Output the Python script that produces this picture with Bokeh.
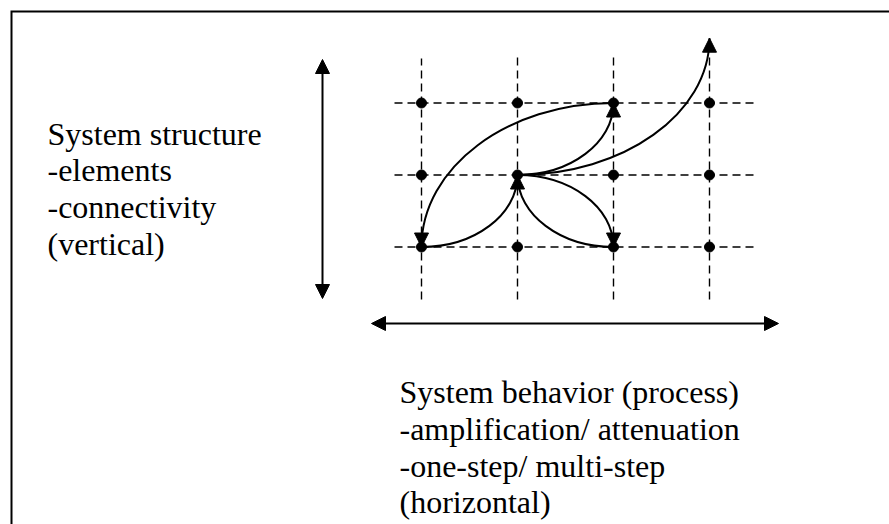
import numpy as np
from bokeh.plotting import figure
from bokeh.models import Range1d, Arrow, NormalHead
from bokeh.core.properties import value
from bokeh.embed import file_html
from bokeh.resources import INLINE

# ---- data ----
cols = [0, 1, 2, 3]
rows = [0, 1, 2]
edge_from = [(0, 0), (1, 1), (1, 1), (1, 1), (2, 2), (1, 1)]
edge_to = [(1, 1), (2, 0), (2, 0), (2, 2), (0, 0), (3, 2.9)]
edge_start = ["h", "h", "v", "h", "h", "h"]
edge_head = [True, True, False, True, True, True]
structure_lines = ["System structure", "-elements", "-connectivity", "(vertical)"]
behavior_lines = ["System behavior (process)", "-amplification/ attenuation",
                  "-one-step/ multi-step", "(horizontal)"]

# ---- layout (pixel -> grid units) ----
X0, DXP = 421.0, 96.0
Y0, DYP = 246.5, 72.0


def gx(X):
    return (X - X0) / DXP


def gy(Y):
    return (Y0 - Y) / DYP


W, H = 889, 524
p = figure(width=W, height=H,
           x_range=Range1d(gx(0), gx(W)),
           y_range=Range1d(gy(H), gy(0)),
           output_backend="svg", toolbar_location=None,
           x_axis_type=None, y_axis_type=None, min_border=0)
p.grid.grid_line_color = None
p.outline_line_color = None
p.background_fill_color = "white"
p.border_fill_color = "white"

BLACK = "black"

# frame (top and left edges visible)
p.line([gx(11), gx(11), gx(1200)], [gy(900), gy(11), gy(11)],
       line_width=2, line_color=BLACK, line_join="miter")

# dashed grid
vx, vy = [], []
for c in cols:
    top = 58 if c == 0 else 54
    vx.append([c, c])
    vy.append([gy(299), gy(top)])
hx, hy = [], []
for r in rows:
    hx.append([gx(394), gx(753)])
    hy.append([r, r])
p.multi_line(vx + hx, vy + hy, line_dash="8 5", line_width=1.4, line_color=BLACK)

# curves
k = 0.5523
bx0, by0, bx1, by1, bcx0, bcy0, bcx1, bcy1 = ([] for _ in range(8))
heads = []
for (a, b), (c, d), s, hd in zip(edge_from, edge_to, edge_start, edge_head):
    ddx, ddy = c - a, d - b
    if s == "h":
        cx0, cy0 = a + k * ddx, b
        cx1, cy1 = c, d - k * ddy
        tx, ty = 0.0, np.sign(ddy)
    else:
        cx0, cy0 = a, b + k * ddy
        cx1, cy1 = c - k * ddx, d
        tx, ty = np.sign(ddx), 0.0
    bx0.append(a); by0.append(b); bx1.append(c); by1.append(d)
    bcx0.append(cx0); bcy0.append(cy0); bcx1.append(cx1); bcy1.append(cy1)
    if hd:
        heads.append((c, d, tx, ty))

p.bezier(x0=bx0, y0=by0, x1=bx1, y1=by1, cx0=bcx0, cy0=bcy0, cx1=bcx1, cy1=bcy1,
         line_width=2, line_color=BLACK)

for (c, d, tx, ty) in heads:
    p.add_layout(Arrow(end=NormalHead(size=14, fill_color=BLACK, line_color=BLACK, line_width=1),
                       x_start=c - 0.05 * tx, y_start=d - 0.05 * ty,
                       x_end=c, y_end=d, line_alpha=0, line_width=0))

# nodes
nx = [c for r in rows for c in cols]
ny = [r for r in rows for c in cols]
p.scatter(nx, ny, size=10, fill_color=BLACK, line_color=BLACK)

# double-headed axis arrows
p.add_layout(Arrow(start=NormalHead(size=14, fill_color=BLACK, line_color=BLACK),
                   end=NormalHead(size=14, fill_color=BLACK, line_color=BLACK),
                   x_start=gx(322), y_start=gy(298), x_end=gx(322), y_end=gy(59),
                   line_width=2, line_color=BLACK))
p.add_layout(Arrow(start=NormalHead(size=14, fill_color=BLACK, line_color=BLACK),
                   end=NormalHead(size=14, fill_color=BLACK, line_color=BLACK),
                   x_start=gx(371), y_start=gy(323), x_end=gx(778), y_end=gy(323),
                   line_width=2, line_color=BLACK))

# texts
pitch = 36.8
p.text(x=[gx(47)] * len(structure_lines),
       y=[gy(133 + i * pitch) for i in range(len(structure_lines))],
       text=structure_lines, text_font=value("Liberation Serif"),
       text_font_size=value("32px"), text_baseline="alphabetic", text_align="left",
       text_color=BLACK)
p.text(x=[gx(399)] * len(behavior_lines),
       y=[gy(391.5 + i * pitch) for i in range(len(behavior_lines))],
       text=behavior_lines, text_font=value("Liberation Serif"),
       text_font_size=value("32px"), text_baseline="alphabetic", text_align="left",
       text_color=BLACK)

open("out.html", "w").write(file_html(p, INLINE))
